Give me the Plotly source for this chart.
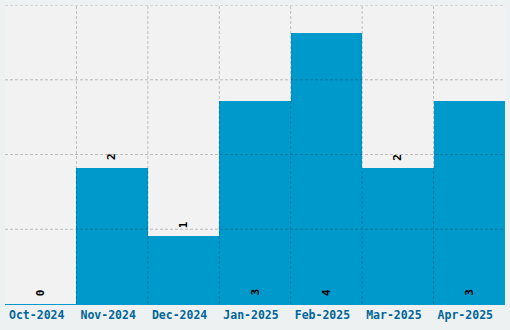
import plotly.graph_objects as go

months = ["Oct-2024", "Nov-2024", "Dec-2024", "Jan-2025", "Feb-2025", "Mar-2025", "Apr-2025"]
counts = [0, 2, 1, 3, 4, 2, 3]
label_at_base = [True, False, False, True, True, False, True]

bar_color = "#0099cc"
grid_color = "rgba(0,0,0,0.22)"
font_family = "DejaVu Sans Mono"

y_top = 4.41
n_hgrid = 4

fig = go.Figure()
fig.add_trace(go.Bar(
    x=months, y=counts, marker=dict(color=bar_color, line=dict(width=0)),
    hoverinfo="skip",
))

annotations = []
for m, v, base in zip(months, counts, label_at_base):
    annotations.append(dict(
        x=m, y=0 if base else v, xref="x", yref="y",
        text=str(v), showarrow=False, textangle=-90,
        yanchor="bottom", yshift=6,
        font=dict(family=font_family, size=11, color="#000000", weight="bold"),
    ))

shapes = []
for i in range(1, len(months)):
    shapes.append(dict(type="line", xref="x", yref="paper", x0=i - 0.5, x1=i - 0.5,
                       y0=0, y1=1, layer="above",
                       line=dict(color=grid_color, width=1, dash="3px,2px")))
for k in range(1, n_hgrid + 1):
    yv = y_top * k / n_hgrid
    shapes.append(dict(type="line", xref="paper", yref="y", x0=0, x1=1,
                       y0=yv, y1=yv, layer="above",
                       line=dict(color=grid_color, width=1, dash="3px,2px")))

fig.update_layout(
    width=510, height=330,
    margin=dict(l=5, r=5, t=5, b=26),
    paper_bgcolor="#eef1f2", plot_bgcolor="#f2f2f2",
    bargap=0, showlegend=False,
    annotations=annotations, shapes=shapes,
    xaxis=dict(type="category", showgrid=False, showline=True, linecolor=bar_color,
               linewidth=1, ticks="", range=[-0.5, len(months) - 0.5],
               ticklabelshift=-4,
               tickfont=dict(family=font_family, size=11.5, color="#006699", weight="bold")),
    yaxis=dict(range=[0, y_top], showgrid=False, zeroline=False, showticklabels=False,
               showline=False),
)

fig.write_html("out.html")
